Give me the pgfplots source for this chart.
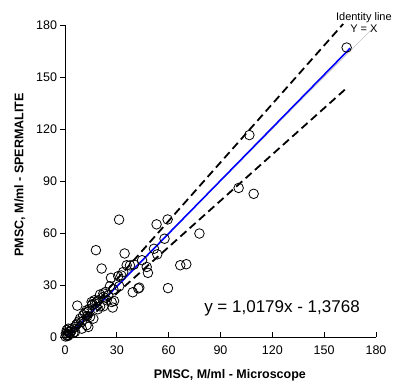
\documentclass[border=0pt]{standalone}
\usepackage{pgfplots}
\pgfplotsset{compat=1.18}
\usepackage{pgfplotstable}
\usepackage{fontspec}
\setmainfont{Liberation Sans}
\pgfplotstableread{
x y
163 167
106.7 116.5
100.5 86
109.2 82.6
77.8 59.7
66.7 41.4
70.2 42.0
59.6 28.2
31.3 67.7
53 65
59.4 67.8
57.6 56.7
51.5 50.9
53.4 47.7
17.9 50.1
34.5 48.2
21.2 39.5
35.7 41.4
37.6 41.3
39.9 41.8
44.6 44.3
47.3 40.4
48.0 37.0
39.2 25.8
42.4 28.0
43.0 28.5
26.6 34.1
27.6 17.0
28.4 20.8
31.4 29.3
32.6 35.5
33.7 37.5
30.8 35.1
20.3 24.5
22.2 25.1
17.0 21.2
15.8 18.9
15.4 20.2
7.1 18.1
26 29.3
28 27.5
27 20.2
15.4 18.3
12.5 15.4
12.9 12.1
14.5 11.6
16.4 10.6
8.7 10.6
9.7 8.7
12.5 6.8
13.5 5.8
7.1 7.7
5.8 5.8
3.9 3.9
1.9 2.9
1 1
2.9 1.9
0.5 2
4.8 2.3
5.8 3
9.7 4.8
0.3 0.3
1 4
1.9 4.8
22.2 23.1
24.1 21.2
19.3 21.2
17.4 19.3
20.3 17.7
22.2 17.7
10.5 12.5
11.5 13.8
8 9
6.5 7
4 5
3 3
2 1
1.5 0.5
18.5 20.5
19 16
23.5 26
25 24
14 16
13 14.5
}\pts
\begin{document}
\begin{tikzpicture}
\begin{axis}[
 scale only axis, width=311pt, height=312pt,
 xmin=0, xmax=180, ymin=0, ymax=180,
 axis x line*=bottom, axis y line*=left,
 xtick={0,30,...,180}, ytick={0,30,...,180},
 xtick align=inside, ytick align=outside,
 major tick length=4.5pt,
 tick style={black, line width=0.8pt},
 axis line style={black, line width=0.8pt},
 tick label style={font=\fontsize{12.5}{14}\selectfont},
 xticklabel style={yshift=-5pt},
 /pgf/number format/assume math mode=true,
 xlabel={PMSC, M/ml - Microscope},
 ylabel={PMSC, M/ml - SPERMALITE},
 label style={font=\fontsize{12.5}{14}\selectfont\bfseries},
 xlabel style={at={(axis description cs:0.53,-0.122)}, anchor=center},
 ylabel style={at={(axis description cs:-0.145,0.52)}, anchor=center},
 clip=false,
]
\addplot[gray!45, line width=0.6pt] coordinates {(0,0) (178,178)};
\addplot[only marks, mark=o, mark size=4.8pt, mark options={black, line width=0.8pt}] table {\pts};
\addplot[black, line width=1.8pt, dash pattern=on 8pt off 4.5pt] coordinates {(1,0.6) (161,180.6)};
\addplot[black, line width=1.8pt, dash pattern=on 8pt off 4.5pt] coordinates {(2,0.3) (163,143.6)};
\addplot[blue, line width=1.6pt] coordinates {(1.35,0) (165,166.58)};
\node[font=\fontsize{17}{19}\selectfont] at (axis cs:125.6,16.6) {y = 1,0179x - 1,3768};
\node[font=\fontsize{11}{12.5}\selectfont, align=center, inner sep=0pt] at (axis cs:173,181.5) {Identity line\\Y = X};
\end{axis}
\path (current axis.south west) ++(-65pt,-48pt) rectangle ++(396pt,385pt);
\end{tikzpicture}
\end{document}
